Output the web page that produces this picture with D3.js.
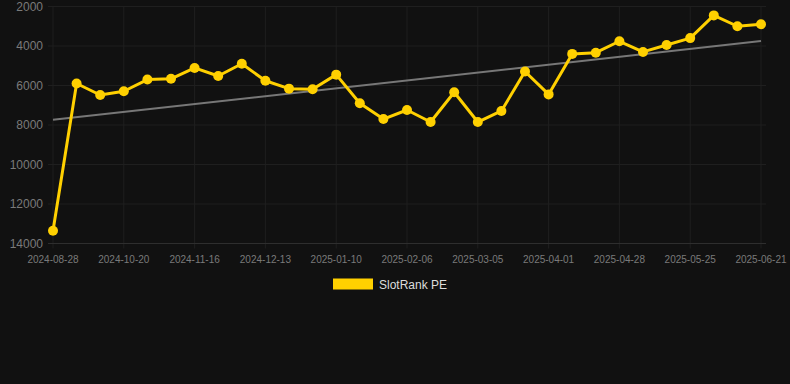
<!DOCTYPE html>
<html><head><meta charset="utf-8">
<script src="https://cdn.jsdelivr.net/npm/d3@7"></script>
<style>
html,body{margin:0;padding:0;background:#111111;}
svg{display:block;font-family:"Liberation Sans",Arial,Helvetica,sans-serif;}
</style></head>
<body>
<svg id="chart" width="790" height="384"></svg>
<script>
const dates = ["2024-08-28","2024-10-02","2024-10-11","2024-10-20","2024-10-29","2024-11-07","2024-11-16","2024-11-25","2024-12-04","2024-12-13","2024-12-22","2024-12-31","2025-01-10","2025-01-19","2025-01-28","2025-02-06","2025-02-15","2025-02-24","2025-03-05","2025-03-14","2025-03-23","2025-04-01","2025-04-10","2025-04-19","2025-04-28","2025-05-07","2025-05-16","2025-05-25","2025-06-03","2025-06-12","2025-06-21"];
const rankValues = [13350,5900,6480,6290,5700,5660,5110,5520,4900,5760,6160,6190,5450,6900,7700,7240,7850,6340,7850,7290,5290,6450,4400,4340,3760,4300,3950,3600,2450,3000,2900];
const yTicks = [2000,4000,6000,8000,10000,12000,14000];
const seriesName = "SlotRank PE";

(function(){
const svg = d3.select("#chart");
svg.append("rect").attr("width",790).attr("height",384).attr("fill","#111111");

const pl = 53, pr = 761, pt = 6.5, pb = 243.5;
const x = d3.scalePoint().domain(dates).range([pl,pr]);
const y = d3.scaleLinear().domain([2000,14000]).range([pt,pb]);

const tickDates = dates.filter((d,i)=>i%3===0);

// grid
const g = svg.append("g");
g.selectAll(".vg").data(tickDates).enter().append("line")
  .attr("x1",d=>x(d)).attr("x2",d=>x(d)).attr("y1",pt).attr("y2",pb+5)
  .attr("stroke","#1f1f1f").attr("stroke-width",1);
g.selectAll(".hg").data(yTicks).enter().append("line")
  .attr("x1",pl-5).attr("x2",pr+5).attr("y1",d=>y(d)).attr("y2",d=>y(d))
  .attr("stroke",d=>d===14000?"#2e2e2e":"#1f1f1f").attr("stroke-width",1);

// y labels
svg.selectAll(".yl").data(yTicks).enter().append("text")
  .attr("x",43).attr("y",d=>y(d)).attr("dy","0.35em").attr("text-anchor","end")
  .attr("font-size",12).attr("fill","#7a7a7a").text(d=>d);

// x labels
svg.selectAll(".xl").data(tickDates).enter().append("text")
  .attr("x",d=>x(d)).attr("y",259).attr("dy","0.35em").attr("text-anchor","middle")
  .attr("font-size",10).attr("fill","#7a7a7a").text(d=>d);

// trend line (linear regression)
const n = rankValues.length;
const mx = d3.mean(rankValues,(v,i)=>i), my = d3.mean(rankValues);
let sxy=0,sxx=0;
rankValues.forEach((v,i)=>{sxy+=(i-mx)*(v-my);sxx+=(i-mx)*(i-mx);});
const slope = sxy/sxx, icpt = my - slope*mx;
svg.append("line")
  .attr("x1",x(dates[0])).attr("y1",y(icpt))
  .attr("x2",x(dates[n-1])).attr("y2",y(icpt+slope*(n-1)))
  .attr("stroke","#777777").attr("stroke-width",2);

// series line
const line = d3.line().x((d,i)=>x(dates[i])).y(d=>y(d));
svg.append("path").datum(rankValues).attr("d",line)
  .attr("fill","none").attr("stroke","#ffd000").attr("stroke-width",3).attr("stroke-linejoin","round");
svg.selectAll(".pt").data(rankValues).enter().append("circle")
  .attr("cx",(d,i)=>x(dates[i])).attr("cy",d=>y(d)).attr("r",5)
  .attr("fill","#ffd000");

// legend
svg.append("rect").attr("x",333).attr("y",278.5).attr("width",40).attr("height",11).attr("fill","#ffd000");
svg.append("text").attr("x",379).attr("y",284.5).attr("dy","0.35em").attr("font-size",12)
  .attr("fill","#dddddd").text(seriesName);
})();
</script>
</body></html>
